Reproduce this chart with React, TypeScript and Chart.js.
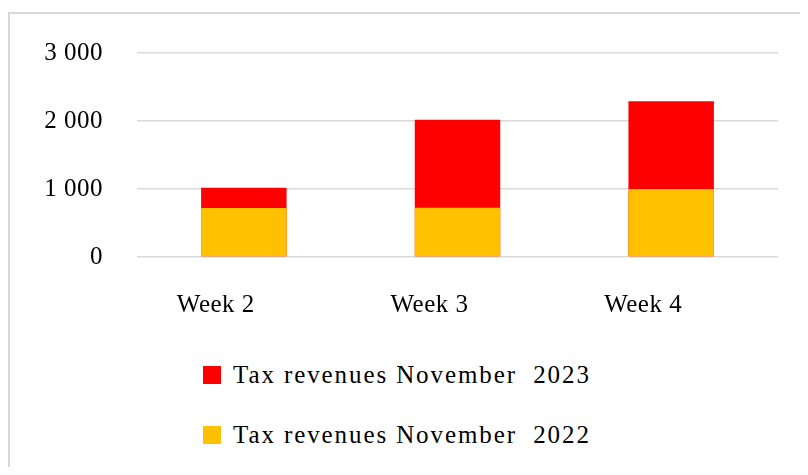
import React, { useEffect, useRef } from 'react';
import { Chart, registerables } from 'chart.js';

Chart.register(...registerables);

const categories = ['Week 2', 'Week 3', 'Week 4'];
const revenues2023 = [1020, 2020, 2290];
const revenues2022 = [720, 725, 1000];
const yTickValues = [0, 1000, 2000, 3000];
const yTickLabels = ['0', '1 000', '2 000', '3 000'];
const seriesNames = ['Tax revenues November  2023', 'Tax revenues November  2022'];
const seriesColors = ['#FF0000', '#FFC000'];

const FONT = "'Liberation Serif', 'Times New Roman', serif";

const letterSpacingPlugin = {
  id: 'letterSpacingPlugin',
  beforeLayout(chart: any) {
    chart.ctx.letterSpacing = '0.5px';
  },
  beforeDraw(chart: any) {
    chart.ctx.letterSpacing = '0.5px';
  },
};

function BarChart() {
  const ref = useRef<HTMLCanvasElement | null>(null);
  useEffect(() => {
    if (!ref.current) return;
    const chart = new Chart(ref.current, {
      type: 'bar',
      data: {
        labels: categories,
        datasets: [
          {
            label: seriesNames[1],
            data: revenues2022,
            backgroundColor: seriesColors[1],
            borderWidth: 0,
            categoryPercentage: 0.8,
            barPercentage: 0.5,
          },
          {
            label: seriesNames[0],
            data: revenues2023,
            backgroundColor: seriesColors[0],
            borderWidth: 0,
            categoryPercentage: 0.8,
            barPercentage: 0.5,
          },
        ],
      },
      plugins: [letterSpacingPlugin],
      options: {
        responsive: false,
        animation: false,
        devicePixelRatio: 1,
        layout: { padding: { top: 39, right: 22, bottom: 0, left: 0 } },
        plugins: {
          legend: { display: false },
          tooltip: { enabled: false },
        },
        scales: {
          x: {
            stacked: true,
            grid: { display: false, drawTicks: false },
            border: { display: false },
            ticks: {
              padding: 33,
              labelOffset: -28,
              color: '#000',
              font: { family: FONT, size: 25 },
            },
            afterFit(scale: any) {
              scale.height = 87;
            },
          },
          y: {
            stacked: false,
            min: 0,
            max: 3000,
            grid: { color: '#d9d9d9', lineWidth: 1.5, drawTicks: false },
            border: { display: false },
            afterBuildTicks(scale: any) {
              scale.ticks = yTickValues.map((v) => ({ value: v }));
            },
            ticks: {
              padding: 34,
              color: '#000',
              font: { family: FONT, size: 25 },
              callback: (value: any) => {
                const i = yTickValues.indexOf(Number(value));
                return i >= 0 ? yTickLabels[i] : '';
              },
            },
            afterFit(scale: any) {
              scale.width = 127;
              scale.paddingTop = 0;
              scale.paddingBottom = 0;
            },
          },
        },
      },
    });
    return () => chart.destroy();
  }, []);
  return (
    <canvas
      ref={ref}
      width={790}
      height={330}
      style={{ position: 'absolute', left: 2, top: 6, width: 790, height: 330 }}
    />
  );
}

export default function App() {
  return (
    <div style={{ position: 'relative', width: 792, height: 459, overflow: 'hidden' }}>
      <div
        style={{
          position: 'absolute',
          left: 0,
          top: 4,
          width: 900,
          height: 600,
          borderTop: '2px solid #d9d9d9',
          borderLeft: '2px solid #d9d9d9',
          boxSizing: 'border-box',
        }}
      />
      <BarChart />
      {seriesNames.map((name, i) => (
        <div
          key={name}
          style={{
            position: 'absolute',
            left: 195,
            top: 352 + i * 60,
            height: 30,
            display: 'flex',
            alignItems: 'center',
          }}
        >
          <span
            style={{
              display: 'inline-block',
              width: 18,
              height: 18,
              background: seriesColors[i],
              marginRight: 12,
            }}
          />
          <span
            style={{
              fontFamily: FONT,
              fontSize: 25,
              lineHeight: '30px',
              letterSpacing: '1.9px',
              whiteSpace: 'pre',
              color: '#000',
            }}
          >
            {name}
          </span>
        </div>
      ))}
    </div>
  );
}
